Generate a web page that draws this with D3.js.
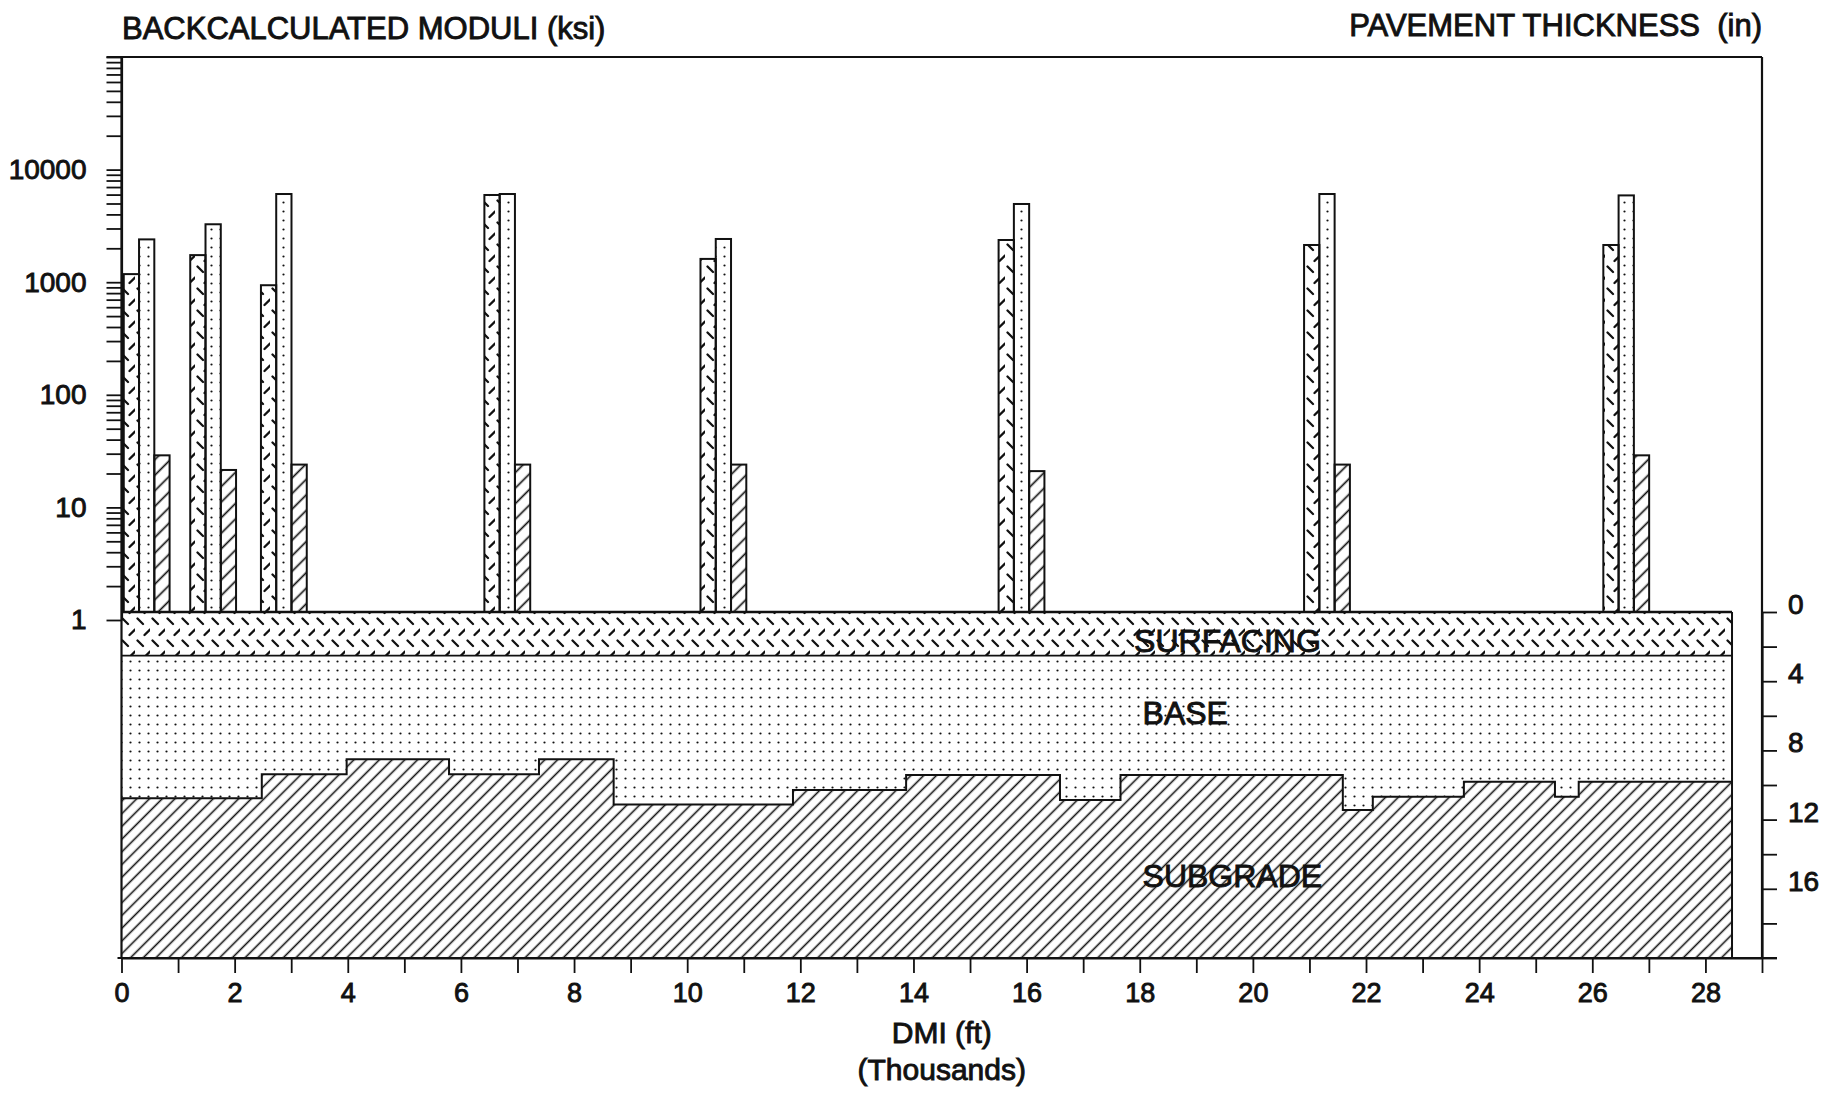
<!DOCTYPE html>
<html>
<head>
<meta charset="utf-8">
<script src="https://cdn.jsdelivr.net/npm/d3@7"></script>
<style>
    body { margin: 0; background: #fff; }
    svg { display: block; }
    text { font-family: "Liberation Sans", Arial, sans-serif; fill: #111; stroke: #111; stroke-width: 0.9px; }
</style>
</head>
<body>
<div id="chart"></div>
<script>
// test stations (DMI, thousands of ft) and backcalculated moduli (ksi)
var stations = [0.445, 1.62, 2.87, 6.82, 10.64, 15.91, 21.31, 26.6];
var surfacingModuli = [1180, 1740, 940, 5950, 1610, 2370, 2140, 2140];
var baseModuli = [2400, 3270, 6070, 6070, 2420, 4950, 6070, 5900];
var subgradeModuli = [29, 21.5, 24, 24, 24, 21, 24, 29];

// layer profile: breakpoints along DMI and depths (in) of the layer bottoms
var layerBreaks = [0, 2.48, 3.98, 5.79, 7.38, 8.70, 11.87, 13.87, 16.59, 17.66, 21.59, 22.12, 23.73, 25.34, 25.76, 28.47];
var surfacingBottom = [2.52, 2.52, 2.52, 2.52, 2.52, 2.52, 2.52, 2.52, 2.52, 2.52, 2.52, 2.52, 2.52, 2.52, 2.52, 2.52];
var baseBottom = [10.77, 9.38, 8.51, 9.38, 8.51, 11.12, 10.29, 9.42, 10.87, 9.42, 11.45, 10.68, 9.81, 10.68, 9.81, 9.81];

// tick labels
var moduliLabels = [1, 10, 100, 1000, 10000];
var thicknessLabels = [0, 4, 8, 12, 16];
var dmiLabels = [0, 2, 4, 6, 8, 10, 12, 14, 16, 18, 20, 22, 24, 26, 28];
var layerNames = ['SURFACING', 'BASE', 'SUBGRADE'];

(function () {
    var width = 1837, height = 1094;
    var barWidth = 0.27;
    var maxDepth = 20;

    var svg = d3.select('#chart')
        .append('svg')
        .attr('width', width)
        .attr('height', height);

    var x = d3.scaleLinear().domain([0, 29]).range([121.5, 1762]);
    var yMod = d3.scaleLog().domain([1, 100000]).range([620, 57]);
    var yDepth = d3.scaleLinear().domain([0, maxDepth]).range([612, 958]);

    var defs = svg.append('defs');

    defs.append('pattern')
        .attr('id', 'surf')
        .attr('patternUnits', 'userSpaceOnUse')
        .attr('width', 15)
        .attr('height', 22)
        .append('path')
        .attr('d', 'M2.5,2.5L8,8M9.5,19L15,13.5')
        .attr('stroke', '#111')
        .attr('stroke-width', 2.3)
        .attr('stroke-linecap', 'round');

    defs.append('pattern')
        .attr('id', 'dots')
        .attr('patternUnits', 'userSpaceOnUse')
        .attr('width', 9)
        .attr('height', 9)
        .append('circle')
        .attr('cx', 4.5)
        .attr('cy', 4.5)
        .attr('r', 1.1)
        .attr('fill', '#111');

    defs.append('pattern')
        .attr('id', 'hatch')
        .attr('patternUnits', 'userSpaceOnUse')
        .attr('width', 9)
        .attr('height', 9)
        .attr('patternTransform', 'rotate(45)')
        .append('line')
        .attr('x1', 4.5).attr('y1', 0)
        .attr('x2', 4.5).attr('y2', 9)
        .attr('stroke', '#111')
        .attr('stroke-width', 1.6);

    defs.append('pattern')
        .attr('id', 'hatchBar')
        .attr('patternUnits', 'userSpaceOnUse')
        .attr('width', 11)
        .attr('height', 11)
        .attr('patternTransform', 'rotate(45)')
        .append('line')
        .attr('x1', 5.5).attr('y1', 0)
        .attr('x2', 5.5).attr('y2', 11)
        .attr('stroke', '#111')
        .attr('stroke-width', 1.7);

    // pavement layers
    var profile = layerBreaks.map(function (d, i) {
        return { x: d, surf: surfacingBottom[i], base: baseBottom[i] };
    });

    var area = function (top, bottom) {
        return d3.area()
            .curve(d3.curveStepAfter)
            .x(function (d) { return x(d.x); })
            .y0(top)
            .y1(bottom);
    };

    var layers = svg.append('g').attr('class', 'layers');

    layers.append('path')
        .datum(profile)
        .attr('d', area(function () { return yDepth(0); }, function (d) { return yDepth(d.surf); }))
        .attr('fill', 'url(#surf)');

    layers.append('path')
        .datum(profile)
        .attr('d', area(function (d) { return yDepth(d.surf); }, function (d) { return yDepth(d.base); }))
        .attr('fill', 'url(#dots)');

    layers.append('path')
        .datum(profile)
        .attr('d', area(function (d) { return yDepth(d.base); }, function () { return yDepth(maxDepth); }))
        .attr('fill', 'url(#hatch)');

    var stepLine = function (key) {
        return d3.line()
            .curve(d3.curveStepAfter)
            .x(function (d) { return x(d.x); })
            .y(function (d) { return key ? yDepth(d[key]) : yDepth(0); });
    };

    layers.append('path')
        .datum(profile)
        .attr('d', stepLine(null))
        .attr('fill', 'none')
        .attr('stroke', '#111')
        .attr('stroke-width', 2.4);

    layers.append('path')
        .datum(profile)
        .attr('d', stepLine('surf'))
        .attr('fill', 'none')
        .attr('stroke', '#111')
        .attr('stroke-width', 1.7);

    layers.append('path')
        .datum(profile)
        .attr('d', stepLine('base'))
        .attr('fill', 'none')
        .attr('stroke', '#111')
        .attr('stroke-width', 2);

    var lastX = layerBreaks[layerBreaks.length - 1];
    layers.append('line')
        .attr('x1', x(lastX)).attr('x2', x(lastX))
        .attr('y1', yDepth(0)).attr('y2', yDepth(maxDepth))
        .attr('stroke', '#111')
        .attr('stroke-width', 2);

    // layer names
    var labelDepth = [2.29, 6.5, 15.9];
    layers.selectAll('text.layer')
        .data(layerNames)
        .enter()
        .append('text')
        .attr('class', 'layer')
        .attr('x', function (d, i) { return x(i === 0 ? 17.9 : 18.05); })
        .attr('y', function (d, i) { return yDepth(labelDepth[i]); })
        .attr('font-size', 32)
        .text(function (d) { return d; });

    // moduli bars
    var series = [
        { values: surfacingModuli, offset: -1.5, fill: 'url(#surf)' },
        { values: baseModuli, offset: -0.5, fill: 'url(#dots)' },
        { values: subgradeModuli, offset: 0.5, fill: 'url(#hatchBar)' }
    ];

    series.forEach(function (s) {
        svg.append('g')
            .selectAll('rect')
            .data(s.values)
            .enter()
            .append('rect')
            .attr('x', function (d, i) { return x(stations[i] + s.offset * barWidth); })
            .attr('width', x(barWidth) - x(0))
            .attr('y', function (d) { return yMod(d); })
            .attr('height', function (d) { return yDepth(0) - yMod(d); })
            .attr('fill', s.fill)
            .attr('stroke', '#111')
            .attr('stroke-width', 2);
    });

    // axes
    var leftAxis = d3.axisLeft(yMod)
        .tickValues(yMod.ticks())
        .tickSize(15)
        .tickSizeOuter(0)
        .tickPadding(20)
        .tickFormat(function (d) { return moduliLabels.indexOf(d) > -1 ? d : ''; });

    var rightAxis = d3.axisRight(yDepth)
        .tickValues(d3.range(0, maxDepth + 1, 2))
        .tickSize(15)
        .tickSizeOuter(0)
        .tickPadding(11)
        .tickFormat(function (d) { return thicknessLabels.indexOf(d) > -1 ? d : ''; });

    var bottomAxis = d3.axisBottom(x)
        .tickValues(d3.range(0, 30))
        .tickSize(15)
        .tickSizeOuter(0)
        .tickPadding(10)
        .tickFormat(function (d) { return dmiLabels.indexOf(d) > -1 ? d : ''; });

    var gLeft = svg.append('g')
        .attr('transform', 'translate(' + x(0) + ',0)')
        .call(leftAxis);

    var gRight = svg.append('g')
        .attr('transform', 'translate(' + x(29) + ',0)')
        .call(rightAxis);

    var gBottom = svg.append('g')
        .attr('transform', 'translate(0,' + yDepth(maxDepth) + ')')
        .call(bottomAxis);

    [gLeft, gRight, gBottom].forEach(function (g) {
        g.attr('font-size', 28);
        g.selectAll('line').attr('stroke', '#111').attr('stroke-width', 1.8);
        g.select('.domain').attr('stroke', '#111').attr('stroke-width', 2.2);
    });
    gRight.selectAll('text').attr('dy', '0.05em');
    gBottom.attr('font-size', 27);

    // frame
    var frame = svg.append('g')
        .attr('stroke', '#111')
        .attr('stroke-width', 2.2)
        .attr('fill', 'none');

    frame.append('line')
        .attr('x1', x(0) - 15).attr('x2', x(29))
        .attr('y1', yMod(100000)).attr('y2', yMod(100000));
    frame.append('line')
        .attr('x1', x(0)).attr('x2', x(0))
        .attr('y1', yMod(100000)).attr('y2', yDepth(maxDepth));
    frame.append('line')
        .attr('x1', x(29)).attr('x2', x(29))
        .attr('y1', yMod(100000)).attr('y2', yDepth(maxDepth));
    frame.append('line')
        .attr('x1', x(0) - 4).attr('x2', x(29) + 15)
        .attr('y1', yDepth(maxDepth)).attr('y2', yDepth(maxDepth));

    // titles
    svg.append('text')
        .attr('x', 122)
        .attr('y', 39)
        .attr('font-size', 31)
        .text('BACKCALCULATED MODULI (ksi)');

    svg.append('text')
        .attr('x', x(29))
        .attr('y', 36)
        .attr('text-anchor', 'end')
        .attr('font-size', 31)
        .attr('xml:space', 'preserve')
        .text('PAVEMENT THICKNESS  (in)');

    svg.append('text')
        .attr('x', x(14.5))
        .attr('y', 1043)
        .attr('text-anchor', 'middle')
        .attr('font-size', 30)
        .text('DMI (ft)');

    svg.append('text')
        .attr('x', x(14.5))
        .attr('y', 1080)
        .attr('text-anchor', 'middle')
        .attr('font-size', 30)
        .text('(Thousands)');
})();
</script>
</body>
</html>
